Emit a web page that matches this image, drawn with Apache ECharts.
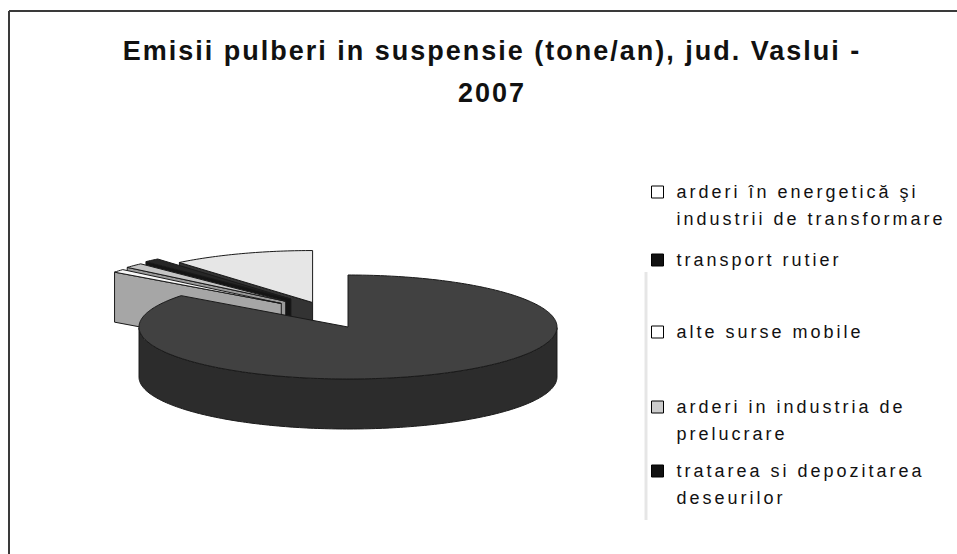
<!DOCTYPE html>
<html>
<head>
<meta charset="utf-8">
<script src="https://cdn.jsdelivr.net/npm/echarts@6/dist/echarts.min.js"></script>
<style>
html, body { margin: 0; padding: 0; background: #ffffff; }
#chart { width: 957px; height: 554px; }
#chart text[style*="27px"] { letter-spacing: 2px; }
#chart text[style*="18px"] { letter-spacing: 3px; }
</style>
</head>
<body>
<div id="chart"></div>
<script>
// ---- data ----
const categories = [
  'arderi în energetică şi\nindustrii de transformare',
  'transport rutier',
  'alte surse mobile',
  'arderi in industria de\nprelucrare',
  'tratarea si depozitarea\ndeseurilor'
];
const values = [11.0, 85.3, 1.0, 1.5, 1.2];
const titleText = 'Emisii pulberi in suspensie (tone/an), jud. Vaslui -\n2007';

// ---- styles ----
const legendColors = ['#ffffff', '#111111', '#ffffff', '#cccccc', '#111111'];
const topColors    = ['#e6e6e6', '#414141', '#f7f7f7', '#c4c4c4', '#262626'];
const sideColors   = ['#333333', '#2c2c2c', '#a6a6a6', '#9a9a9a', '#141414'];
const explodeX     = [0.5, 0, 0.41, 0.41, 0.41];
const explodeY     = [0.5, 0, 0.72, 0.72, 0.72];
const legendTops   = [151.5, 246.5, 318.5, 366.5, 430.5];
const DEPTH = 50;
const FONT = '"Liberation Sans", Arial, sans-serif';

const TOTAL = values.reduce((s, v) => s + v, 0);
const START = -values[0] / TOTAL * 360;
function sliceRange(i) {
  let a = START;
  for (let k = 0; k < i; k++) a += values[k] / TOTAL * 360;
  return [a, a + values[i] / TOTAL * 360];
}
const rad = d => d * Math.PI / 180;
function midOf(i) { const r = sliceRange(i); return (r[0] + r[1]) / 2; }
const order = categories.map((_, i) => i).sort((p, q) => Math.cos(rad(midOf(q))) - Math.cos(rad(midOf(p))));
const rank = [];
order.forEach((idx, r) => { rank[idx] = r; });

function poly(points, fill, stroke, z2) {
  return {
    type: 'polygon',
    shape: { points: points },
    style: { fill: fill, stroke: stroke, lineWidth: 1, lineJoin: 'round' },
    z2: z2
  };
}

function renderSlice(params, api) {
  const i = params.seriesIndex;
  const r = sliceRange(i);
  const a0 = r[0], a1 = r[1];
  const mid = rad((a0 + a1) / 2);
  const ox = explodeX[i] * Math.sin(mid), oy = explodeY[i] * Math.cos(mid);
  const P = a => api.coord([ox + Math.sin(rad(a)), oy + Math.cos(rad(a))]);
  const C = api.coord([ox, oy]);
  const down = p => [p[0], p[1] + DEPTH];
  const steps = Math.max(2, Math.ceil(a1 - a0));
  const arc = [], angs = [];
  for (let s = 0; s <= steps; s++) {
    const a = a0 + (a1 - a0) * s / steps;
    angs.push(a);
    arc.push(P(a));
  }
  const stroke = '#1a1a1a';
  const children = [];
  if (Math.sin(rad(a0)) < -1e-6) children.push(poly([C, arc[0], down(arc[0]), down(C)], sideColors[i], stroke, 1));
  if (Math.sin(rad(a1)) > 1e-6) children.push(poly([C, arc[steps], down(arc[steps]), down(C)], sideColors[i], stroke, 1));
  let run = [];
  const flush = () => {
    if (run.length > 1) {
      children.push(poly(run.concat(run.slice().reverse().map(down)), sideColors[i], stroke, 2));
    }
    run = [];
  };
  for (let s = 0; s <= steps; s++) {
    if (Math.cos(rad(angs[s])) < 1e-9) run.push(arc[s]); else flush();
  }
  flush();
  children.push(poly([C].concat(arc), topColors[i], stroke, 10));
  return { type: 'group', children: children };
}

const chart = echarts.init(document.getElementById('chart'), null, { renderer: 'svg' });

const legends = categories.map((name, i) => ({
  data: [name],
  left: 651,
  top: legendTops[i],
  orient: 'vertical',
  padding: 0,
  itemWidth: 28,
  itemHeight: 12,
  icon: 'path://M0 0H12V12H0Z',
  symbolKeepAspect: true,
  selectedMode: false,
  itemStyle: { borderColor: '#000000', borderWidth: 1 },
  textStyle: { fontSize: 18, fontFamily: FONT, color: '#111111', lineHeight: 27 },
  formatter: n => (n.indexOf('\n') >= 0 ? '\n' + n : n)
}));

chart.setOption({
  animation: false,
  backgroundColor: '#ffffff',
  title: {
    text: titleText,
    left: 492,
    top: 30,
    padding: 0,
    textAlign: 'center',
    textStyle: { fontSize: 27, fontWeight: 'bold', fontFamily: FONT, color: '#111111', lineHeight: 42 }
  },
  legend: legends,
  grid: { left: 139, top: 275, width: 418, height: 104, show: false },
  xAxis: { type: 'value', min: -1, max: 1, show: false },
  yAxis: { type: 'value', min: -1, max: 1, show: false },
  graphic: [
    { type: 'line', shape: { x1: 9, y1: 11, x2: 957, y2: 11 }, style: { stroke: '#3a3a3a', lineWidth: 2 } },
    { type: 'line', shape: { x1: 9, y1: 11, x2: 9, y2: 554 }, style: { stroke: '#3a3a3a', lineWidth: 2 } },
    { type: 'line', shape: { x1: 646, y1: 272, x2: 646, y2: 520 }, style: { stroke: '#e6e6e6', lineWidth: 3 } }
  ],
  series: categories.map((name, i) => ({
    type: 'custom',
    name: name,
    coordinateSystem: 'cartesian2d',
    renderItem: renderSlice,
    data: [[0, 0, values[i]]],
    encode: { x: 0, y: 1 },
    clip: false,
    silent: true,
    z: 2 + rank[i],
    itemStyle: { color: legendColors[i] }
  }))
});
</script>
</body>
</html>
